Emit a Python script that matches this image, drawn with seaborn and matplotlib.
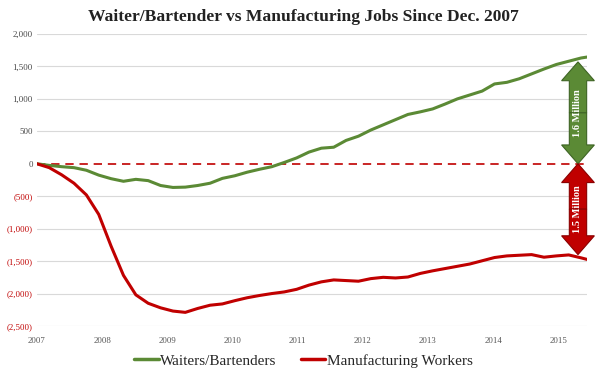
import numpy as np
import pandas as pd
import matplotlib.pyplot as plt
import matplotlib.patches as mpatches
from matplotlib.lines import Line2D
import seaborn as sns

# months since Dec 2007
months = [0, 2, 4, 6, 8, 10, 12, 14, 16, 18, 20, 22, 24, 26, 28, 30, 32, 34, 36, 38,
          40, 42, 44, 46, 48, 50, 52, 54, 56, 58, 60, 62, 64, 66, 68, 70, 72, 74, 76, 78,
          80, 82, 84, 86, 88, 89]
waiters = [0, -25, -45, -60, -100, -175, -230, -270, -240, -260, -335, -365, -360, -335, -300, -225,
           -185, -130, -85, -45, 20, 90, 180, 240, 255, 360, 425, 520, 600, 680,
           760, 800, 845, 920, 1000, 1060, 1120, 1230, 1255, 1310, 1385, 1460, 1530, 1580, 1630, 1645]
manufacturing = [0, -60, -170, -300, -480, -780, -1270, -1720, -2020, -2150, -2220, -2270, -2290, -2230,
                 -2180, -2160, -2110, -2065, -2030, -2000, -1975, -1935, -1870, -1820, -1790, -1800,
                 -1810, -1770, -1750, -1760, -1745, -1690, -1650, -1615, -1580, -1545, -1495, -1445,
                 -1420, -1410, -1400, -1440, -1420, -1405, -1450, -1475]
year_labels = ['2007', '2008', '2009', '2010', '2011', '2012', '2013', '2014', '2015']
yticks = [2000, 1500, 1000, 500, 0, -500, -1000, -1500, -2000, -2500]
green_gain = 1570
red_loss = -1400

GREEN = '#5b8a35'
RED = '#c00000'

df = pd.DataFrame({'month': months, 'Waiters/Bartenders': waiters,
                   'Manufacturing Workers': manufacturing})
long = df.melt('month', var_name='series', value_name='jobs')

sns.set_theme(style='white')
plt.rcParams['font.family'] = ['Liberation Serif', 'DejaVu Serif']

fig = plt.figure(figsize=(5.95, 3.78), dpi=100)
ax = fig.add_axes([0.062, 0.1376, 0.925, 0.7725])

for y in yticks:
    if y != 0:
        ax.axhline(y, color='#d9d9d9', lw=0.8, zorder=0)
ax.axhline(0, color=RED, lw=1.2, ls=(0, (5, 3.5)), zorder=1)

sns.lineplot(data=long, x='month', y='jobs', hue='series',
             palette={'Waiters/Bartenders': GREEN, 'Manufacturing Workers': RED},
             linewidth=2.2, legend=False, ax=ax, zorder=3)

ax.set_xlim(0, 89)
ax.set_ylim(-2500, 2000)
step = 84.3 / 8
ax.set_xticks([i * step for i in range(len(year_labels))])
ax.set_xticklabels(year_labels, fontsize=6.3, color='#555555')
ax.set_yticks(yticks)
ylab = [f'{v:,}' if v >= 0 else f'({-v:,})' for v in yticks]
ax.set_yticklabels(ylab, fontsize=6.3)
for t, v in zip(ax.get_yticklabels(), yticks):
    t.set_color(RED if v < 0 else '#444444')
ax.tick_params(axis='both', length=0, pad=3)
ax.tick_params(axis='x', pad=8)
for s in ax.spines.values():
    s.set_visible(False)
ax.set_xlabel('')
ax.set_ylabel('')

# double arrows
ax_x = 87.5
bw, hw, hl = 2.8, 5.3, 290
gmid = green_gain / 2
for tip in (green_gain, 0):
    ax.add_patch(mpatches.FancyArrow(ax_x, gmid, 0, tip - gmid, width=bw, head_width=hw,
                                     head_length=hl, length_includes_head=True,
                                     fc=GREEN, ec='#3e6424', lw=0.8, zorder=5, clip_on=False))
ax.text(ax_x, gmid, '1.6 Million', rotation=90, ha='center', va='center',
        color='white', fontsize=7.5, fontweight='bold', zorder=6)
rmid = red_loss / 2
for tip in (0, red_loss):
    ax.add_patch(mpatches.FancyArrow(ax_x, rmid, 0, tip - rmid, width=bw, head_width=hw,
                                     head_length=hl, length_includes_head=True,
                                     fc=RED, ec='#8a0000', lw=0.8, zorder=5, clip_on=False))
ax.text(ax_x, rmid, '1.5 Million', rotation=90, ha='center', va='center',
        color='white', fontsize=7.5, fontweight='bold', zorder=6)

fig.text(0.51, 0.955, 'Waiter/Bartender vs Manufacturing Jobs Since Dec. 2007',
         ha='center', va='center', fontsize=12.6, fontweight='bold', color='#222222')

handles = [Line2D([], [], color=GREEN, lw=2.5), Line2D([], [], color=RED, lw=2.5)]
fig.legend(handles, ['Waiters/Bartenders', 'Manufacturing Workers'], loc='center',
           bbox_to_anchor=(0.51, 0.046), ncol=2, frameon=False, fontsize=11,
           handlelength=1.6, handletextpad=0.1, columnspacing=1.6)

fig.savefig('out.png', dpi=100)
